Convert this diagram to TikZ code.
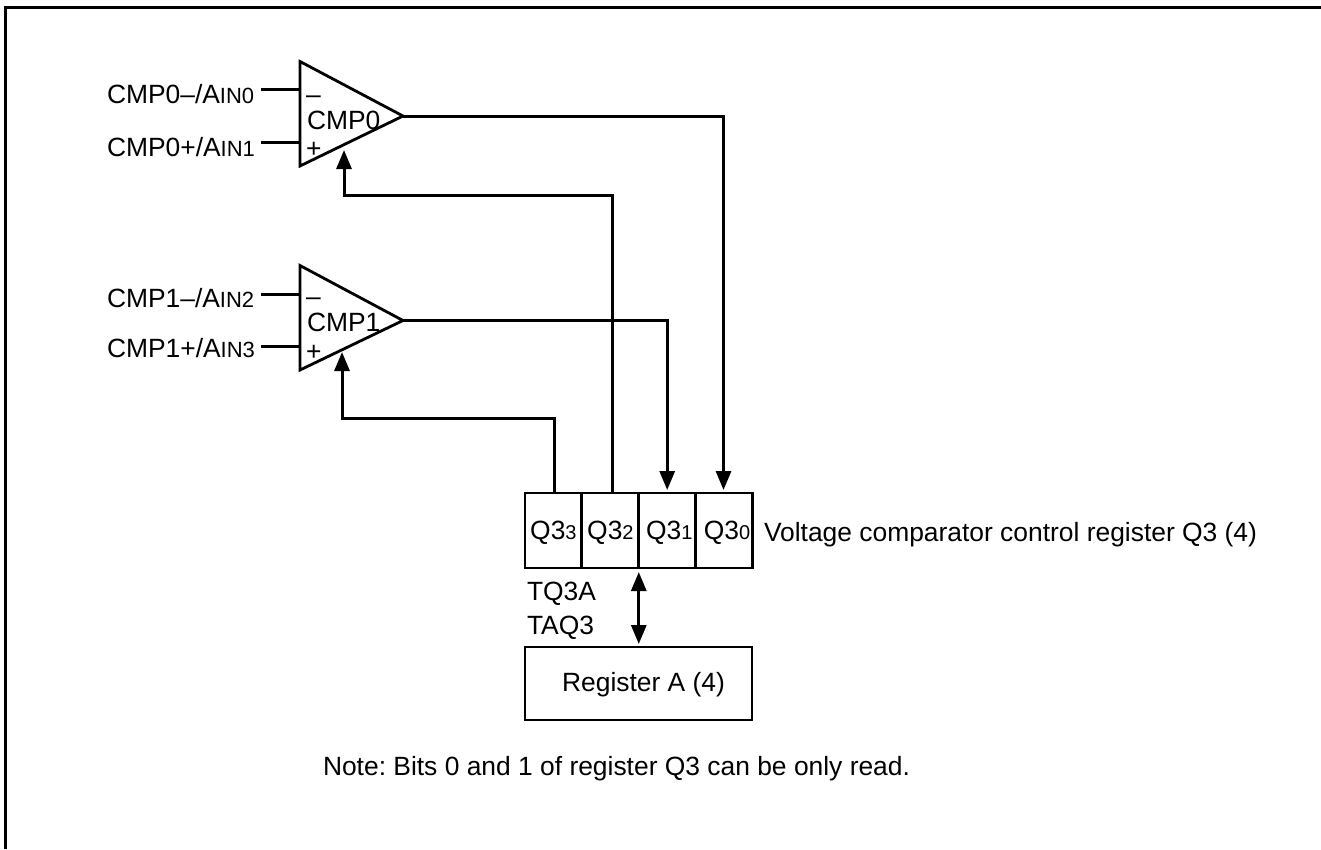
\documentclass[tikz,border=0pt]{standalone}
\usepackage{fontspec}
\setmainfont{Liberation Sans}
\usetikzlibrary{arrows.meta}
\newcommand{\bigt}{\frenchspacing\fontsize{26.4}{30}\selectfont}
\newcommand{\smt}[1]{{\fontsize{20}{22}\selectfont #1}}
\newcommand{\smi}[1]{{\fontsize{22}{24}\selectfont #1}}
\newcommand{\lowertext}[2]{\raisebox{-#1}[\height][\depth]{#2}}
\tikzset{
  x=1pt,y=-1pt,
  wire/.style={line width=3pt},
  arrowwire/.style={wire,-{Triangle[length=19pt,width=15pt]}},
  bothwire/.style={wire,{Triangle[length=19pt,width=15pt]}-{Triangle[length=19pt,width=15pt]}},
  label/.style={inner sep=0pt,outer sep=0pt,font=\bigt},
  cell/.style={draw,line width=2.8pt,rectangle,minimum width=56.75pt,minimum height=75pt,inner sep=0pt,outer sep=0pt,font=\bigt},
  regbox/.style={draw,line width=2.8pt,rectangle,minimum width=227pt,minimum height=73pt,inner sep=0pt,outer sep=0pt,font=\bigt},
  amp/.style={draw,line width=2.8pt,line join=miter},
}
\begin{document}
\begin{tikzpicture}
\useasboundingbox (0,0) rectangle (1321,849);
\draw[line width=3pt] (5,849) -- (5,7.5) -- (1321,7.5);
% comparators
\coordinate (t0top) at (300,61.5); \coordinate (t0bot) at (300,166); \coordinate (t0tip) at (403,116);
\coordinate (t1top) at (300,265.5); \coordinate (t1bot) at (300,370); \coordinate (t1tip) at (403,320.5);
\draw[amp] (t0top) -- (t0tip) -- (t0bot) -- cycle;
\draw[amp] (t1top) -- (t1tip) -- (t1bot) -- cycle;
\node[label,anchor=base west] (c0t) at (307,129) {CMP0};
\node[label,anchor=base west] (c1t) at (307,331) {CMP1};
\node[label,anchor=base west] (c0m) at (306,103) {--};
\node[label,anchor=base west] (c0p) at (306,157) {+};
\node[label,anchor=base west] (c1m) at (306,305) {--};
\node[label,anchor=base west] (c1p) at (306,360) {+};
\node[label,anchor=base west] (i0) at (107,103) {CMP0--/A\smi{IN0}};
\node[label,anchor=base west] (i1) at (107,156) {CMP0+/A\smi{IN1}};
\node[label,anchor=base west] (i2) at (107,307) {CMP1--/A\smi{IN2}};
\node[label,anchor=base west] (i3) at (107,357) {CMP1+/A\smi{IN3}};
% input stubs
\coordinate (s0) at (261,89); \coordinate (e0) at (300,89);
\coordinate (s1) at (261,142); \coordinate (e1) at (300,142);
\coordinate (s2) at (261,294); \coordinate (e2) at (300,294);
\coordinate (s3) at (261,346); \coordinate (e3) at (300,346);
\draw[wire] (s0) -- (e0);
\draw[wire] (s1) -- (e1);
\draw[wire] (s2) -- (e2);
\draw[wire] (s3) -- (e3);
% register
\node[cell] (q3) at (553.4,530.5) {\lowertext{2pt}{Q3\smt{3}}};
\node[cell] (q2) at (610.4,530.5) {\lowertext{2pt}{Q3\smt{2}}};
\node[cell] (q1) at (667.2,530.5) {\hspace*{4pt}\lowertext{2pt}{Q3\smt{1}}};
\node[cell] (q0) at (724,530.5) {\hspace*{6pt}\lowertext{2pt}{Q3\smt{0}}};
\node[regbox] (ra) at (638.5,683.5) {\hspace*{10pt}\lowertext{1pt}{Register A (4)}};
\node[label,anchor=base west] (vc) at (764,541) {Voltage comparator control register Q3 (4)};
\node[label,anchor=base west] (tq) at (527,600) {TQ3A};
\node[label,anchor=base west] (ta) at (527,634) {TAQ3};
\node[label,anchor=base west] (nt) at (323,775) {Note: Bits 0 and 1 of register Q3 can be only read.};
% connectors
\coordinate (a0) at (344,150); \coordinate (b0) at (344,195);
\coordinate (a1) at (342,352); \coordinate (b1) at (342,418);
\coordinate (d0) at ([yshift=-4pt]q2.south east);
\coordinate (d1) at ([yshift=3pt]d0 |- ra.north);
\draw[arrowwire] (t0tip) -| ([xshift=-0.5pt,yshift=3pt]q0.north);
\draw[arrowwire] (t1tip) -| ([yshift=3pt]q1.north);
\draw[arrowwire] ([xshift=1.6pt]q2.north) |- (b0) -- (a0);
\draw[arrowwire] ([xshift=0.6pt]q3.north) |- (b1) -- (a1);
\draw[bothwire] (d0) -- (d1);
\end{tikzpicture}
\end{document}
